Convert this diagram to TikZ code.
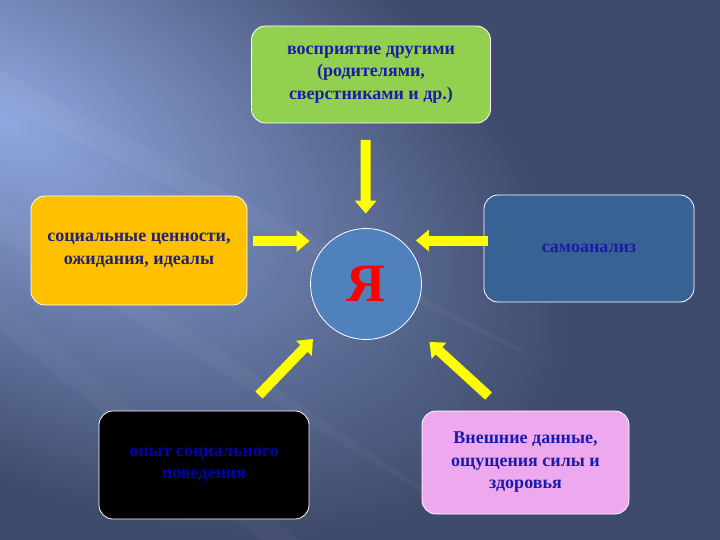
\documentclass[tikz,border=0pt]{standalone}
\usepackage{fontspec}
\setmainfont{Liberation Serif}
\usepackage{tikz}
\usetikzlibrary{calc, arrows.meta}

\definecolor{bgdark}{HTML}{3F4B6C}
\definecolor{bglight}{HTML}{90A8E0}
\definecolor{boxgreen}{HTML}{92D050}
\definecolor{boxorange}{HTML}{FFC000}
\definecolor{boxblue}{HTML}{386294}
\definecolor{boxpink}{HTML}{EEA9EE}
\definecolor{mecircle}{HTML}{4F81BD}
\definecolor{txtblue}{HTML}{1C1CAA}
\definecolor{txtnavy}{HTML}{222278}
\definecolor{arryellow}{HTML}{FFFF00}

\begin{document}
\begin{tikzpicture}[x=1pt, y=-1pt,
    box/.style={draw=white, line width=0.8pt, rounded corners=14pt, inner sep=2pt,
        align=center, text=txtblue, font=\bfseries\fontsize{18}{22.5}\selectfont},
    arr/.style={draw=arryellow, line width=10pt, -{Triangle[width=21pt, length=13pt]}},
]
    \useasboundingbox (0, 0) rectangle (720, 540);
    % фон
    \fill [bgdark] (0, 0) rectangle (720, 540);
    \begin{scope}
        \clip (0, 0) rectangle (720, 540);
        \begin{scope}[transform canvas={rotate around={-28:(0, 120)}}]
            \shade [inner color=bglight, outer color=bgdark] (0, 120) ellipse (620 and 330);
        \end{scope}
        % лучи
        \fill [white, opacity=0.035] (0, 70) -- (560, 370) -- (0, 105) -- cycle;
        \fill [white, opacity=0.035] (0, 200) -- (470, 520) -- (0, 240) -- cycle;
        \fill [white, opacity=0.03] (0, 300) -- (300, 540) -- (260, 540) -- (0, 330) -- cycle;
    \end{scope}

    % блоки
    \node [box, fill=boxgreen, minimum width=239pt, minimum height=97pt] (others) at (371, 74.5)
        {восприятие другими\\(родителями,\\сверстниками и др.)};
    \node [box, fill=boxorange, text=txtnavy, minimum width=216pt, minimum height=109pt] (values) at (139, 250.5)
        {социальные ценности,\\ожидания, идеалы};
    \node [box, fill=boxblue, minimum width=210pt, minimum height=107pt] (selfan) at (589, 248.5)
        {самоанализ};
    \node [box, fill=black, text=blue!70!black, minimum width=210pt, minimum height=108pt] (experience) at (204, 465)
        {опыт социального\\поведения};
    \node [box, fill=boxpink, minimum width=207pt, minimum height=103pt] (appearance) at (525.5, 462.5)
        {Внешние данные,\\ощущения силы и\\здоровья};
    \node [circle, draw=white, line width=0.8pt, fill=mecircle, minimum size=111pt, inner sep=0pt,
        text=red, font=\bfseries\fontsize{54}{54}\selectfont] (me) at (366, 284) {Я};

    % стрелки
    \draw [arr, shorten <=16.5pt, shorten >=14.5pt] ([xshift=-5.5pt]others.south) -- (me);
    \draw [arr, shorten <=5.5pt, shorten >=0.5pt] ([yshift=9.5pt]values.east) -- ([yshift=9.5pt]values.east -| me.west);
    \draw [arr, shorten <=-4pt, shorten >=-6pt] ([yshift=8pt]selfan.west) -- ([yshift=8pt]selfan.west -| me.east);
    \draw [arr, shorten <=21.6pt, shorten >=20.5pt] ([xshift=40pt]experience.north) -- (me);
    \draw [arr, shorten <=21.6pt, shorten >=30pt] ([xshift=-21pt]appearance.north) -- (me);
\end{tikzpicture}
\end{document}
